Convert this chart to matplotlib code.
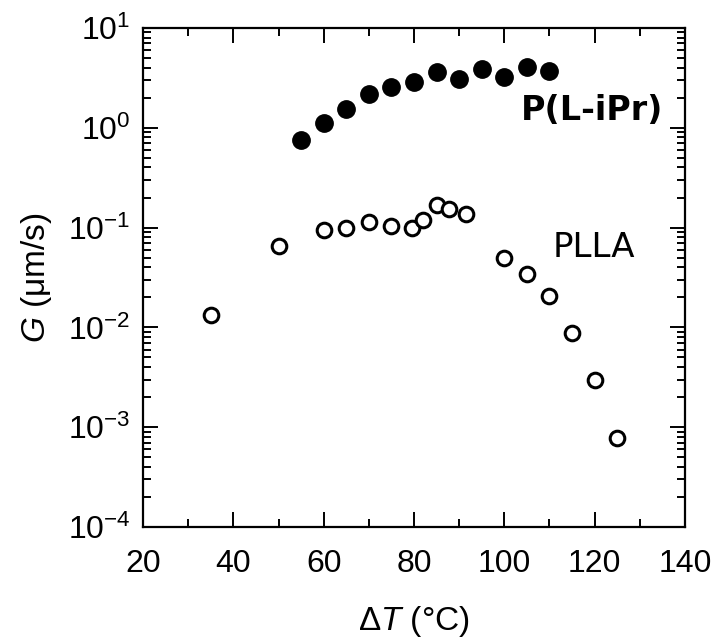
import matplotlib
matplotlib.use('Agg')
import matplotlib.pyplot as plt
from matplotlib.ticker import LogLocator, MultipleLocator, NullFormatter

plt.rcParams['font.family'] = ['Liberation Sans', 'DejaVu Sans']
plt.rcParams['mathtext.fontset'] = 'custom'
plt.rcParams['mathtext.rm'] = 'Liberation Sans'
plt.rcParams['mathtext.it'] = 'Liberation Sans:italic'

# P(L-iPr), filled
dT_ipr = [55, 60, 65, 70, 75, 80, 85, 90, 95, 100, 105, 110]
G_ipr = [0.76, 1.12, 1.55, 2.19, 2.57, 2.89, 3.64, 3.1, 3.9, 3.24, 4.08, 3.73]

# PLLA, open
dT_plla = [35, 50, 60, 65, 70, 75, 79.6, 82, 85, 87.8, 91.5, 100, 105, 110, 115, 120, 125]
G_plla = [0.0134, 0.0657, 0.095, 0.1, 0.114, 0.104, 0.1, 0.12, 0.17, 0.154, 0.137,
          0.05, 0.034, 0.0204, 0.0088, 0.003, 0.00078]

x_ticks = [20, 40, 60, 80, 100, 120, 140]

fig = plt.figure(figsize=(7.19, 6.39), dpi=100)
ax = fig.add_axes([0.1989, 0.1753, 0.7538, 0.781])

ax.plot(dT_ipr, G_ipr, 'o', ms=12.5, color='black', mec='black')
ax.plot(dT_plla, G_plla, 'o', ms=10.5, mfc='white', mec='black', mew=2.2)

ax.set_yscale('log')
ax.set_xlim(20, 140)
ax.set_ylim(1e-4, 10)
ax.set_xticks(x_ticks)
ax.xaxis.set_minor_locator(MultipleLocator(10))
ax.yaxis.set_major_locator(LogLocator(base=10, numticks=10))
ax.yaxis.set_minor_locator(LogLocator(base=10, subs=range(2, 10), numticks=10))
ax.yaxis.set_minor_formatter(NullFormatter())

ax.tick_params(which='both', direction='in', top=True, right=True, width=1.4, labelsize=23)
ax.tick_params(which='major', length=11)
ax.tick_params(which='minor', length=6)
ax.tick_params(axis='x', which='major', pad=16)
ax.tick_params(axis='y', which='major', pad=9)
for s in ax.spines.values():
    s.set_linewidth(1.6)

ax.set_xlabel(r'$\Delta$$\mathit{T}$ (°C)', fontsize=24, labelpad=18)
ax.set_ylabel(r'$\mathit{G}$ (μm/s)', fontsize=24, labelpad=10)

ax.text(119.4, 1.2, 'P(L-iPr)', fontsize=24, fontweight='bold', family='DejaVu Sans',
        ha='center', va='baseline')
ax.text(119.8, 0.051, 'PLLA', fontsize=24.5, family='DejaVu Sans', ha='center', va='baseline')

fig.savefig('out.png', dpi=100)
